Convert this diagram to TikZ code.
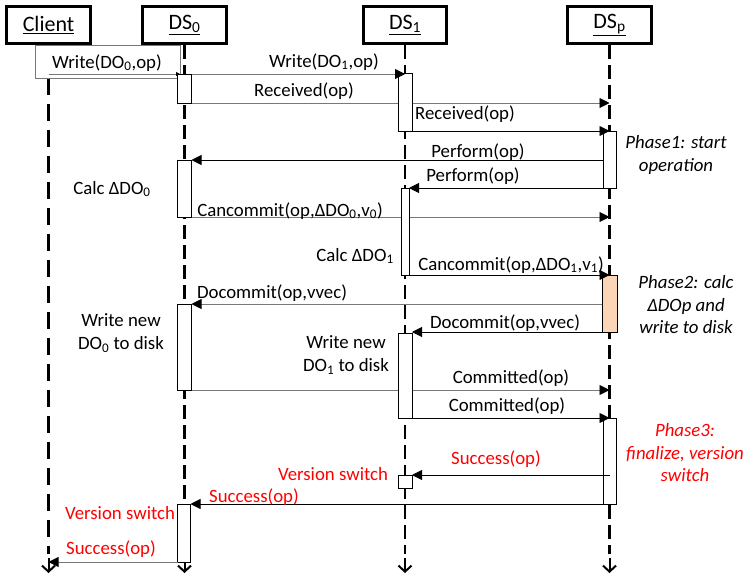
\documentclass[tikz,border=0pt]{standalone}
\usepackage{fontspec}
\setmainfont{Carlito}
\usetikzlibrary{arrows.meta,calc}
\definecolor{peach}{RGB}{251,213,181}
\definecolor{msggray}{RGB}{120,120,120}
\pgfdeclarelayer{bg}
\pgfsetlayers{bg,main}
\begin{document}
\begin{tikzpicture}[x=1pt,y=-1pt,
  font=\fontsize{18.8}{23}\selectfont,
  hdr/.style={draw, line width=3pt, fill=white, inner sep=0pt, font=\fontsize{22}{26}\selectfont},
  act/.style={draw, line width=0.9pt, fill=white, inner sep=0pt, outer sep=0pt, anchor=north west},
  life/.style={line width=2.8pt, dash pattern=on 14pt off 6pt},
  clife/.style={line width=2.4pt, dash pattern=on 17pt off 9pt},
  endarrow/.style={line width=2pt, -{Straight Barb[length=6pt,width=13pt]}},
  msg/.style={line width=0.9pt, -{Triangle[length=10pt,width=10pt,color=black]}},
  grey/.style={draw=msggray},
  lbl/.style={inner sep=0pt, anchor=center},
  twoline/.style={inner sep=0pt, align=center},
  note/.style={inner sep=0pt, align=center, font=\fontsize{18.8}{22.5}\selectfont\itshape}]
\useasboundingbox (0,0) rectangle (748,582);

% write box of the client
\node[draw=msggray, line width=0.8pt, fill=white, minimum width=145pt, minimum height=33pt,
      inner sep=0pt, outer sep=0pt, anchor=north west] (wb) at (35,45) {};

% headers
\node[hdr, minimum width=84pt, minimum height=37pt] (hc) at (48.5,25) {\underline{Client}};
\node[hdr, minimum width=84pt, minimum height=37pt] (h0) at (184.5,25) {\underline{DS\textsubscript{0}}};
\node[hdr, minimum width=83pt, minimum height=37pt] (h1) at (405,25) {\underline{DS\textsubscript{1}}};
\node[hdr, minimum width=84pt, minimum height=37pt] (hp) at (609.5,25) {\underline{DS\textsubscript{p}}};

\coordinate (bot) at (0,554);
\coordinate (stem) at (0,558);
\coordinate (tipy) at (0,573);
\coordinate (w0) at (48.5,74);
\coordinate (w1) at (180,74);

% activation boxes
\node[act, minimum width=14pt, minimum height=29pt] (a01) at (177.5,74) {};
\node[act, minimum width=14pt, minimum height=58pt] (a11) at (398,73) {};
\node[act, minimum width=13pt, minimum height=57pt] (ap1) at (603,131) {};
\node[act, minimum width=14pt, minimum height=57pt] (a02) at (177.5,160) {};
\node[act, minimum width=8pt, minimum height=87pt] (a12) at (401,188) {};
\node[act, fill=peach, minimum width=15pt, minimum height=57pt] (ap2) at (602,275) {};
\node[act, minimum width=14pt, minimum height=86pt] (a03) at (177.5,304) {};
\node[act, minimum width=14pt, minimum height=85pt] (a13) at (398,333) {};
\node[act, minimum width=13pt, minimum height=86pt] (ap3) at (603,418) {};
\node[act, minimum width=14pt, minimum height=13pt] (a14) at (398,475) {};
\node[act, minimum width=13pt, minimum height=58pt] (a04) at (177.5,504) {};

\begin{pgfonlayer}{bg}
  % lifelines
  \draw[clife] (hc.south |- wb.south) -- (hc.south |- bot);
  \draw[life] (h0.south) -- (h0.south |- bot);
  \draw[life] (h1.south) -- (h1.south |- bot);
  \draw[life] (hp.south) -- (hp.south |- bot);
  \draw[endarrow] (hc.south |- stem) -- (hc.south |- tipy);
  \draw[endarrow] (h0.south |- stem) -- (h0.south |- tipy);
  \draw[endarrow] (h1.south |- stem) -- (h1.south |- tipy);
  \draw[endarrow] (hp.south |- stem) -- (hp.south |- tipy);
  % messages passing behind activation boxes
  \draw[msg, grey] (a01.south east) -- (a01.south east -| hp.south);
  \draw[msg, grey] (a02.south east) -- (a02.south east -| hp.south);
  \draw[msg, grey] (a03.south east) -- (a03.south east -| hp.south);
\end{pgfonlayer}

% messages
\draw[grey, line width=0.9pt, -{Triangle[length=4pt,width=4pt,color=black]}] (w0) -- (w1);
\draw[msg, grey] (a01.north east) -- (a01.north east -| h1.south);
\draw[msg] (a11.south east) -- (a11.south east -| hp.south);
\draw[msg] (a02.north east -| ap1.west) -- (a02.north east);
\draw[msg] (ap1.south west) -- (ap1.south west -| a12.east);
\draw[msg] (a12.south east) -- (a12.south east -| hp.south);
\draw[msg, grey] (a03.north east -| ap2.west) -- (a03.north east);
\draw[msg] (ap2.south west) -- (ap2.south west -| a13.east);
\draw[msg] (a13.south east) -- (a13.south east -| hp.south);
\draw[msg] (a14.north east -| hp.south) -- (a14.north east);
\draw[msg] (ap3.south west) -- (ap3.south west -| a04.east);
\draw[msg, grey] (a04.south west) -- (a04.south west -| hc.south);

% message labels
\node[lbl] (t1) at (107,63) {Write(DO\textsubscript{0},op)};
\node[lbl] (t2) at (324,62) {Write(DO\textsubscript{1},op)};
\node[lbl] (t3) at (304,91) {Received(op)};
\node[lbl] (t4) at (465,114) {Received(op)};
\node[lbl] (t5) at (478,152) {Perform(op)};
\node[lbl] (t6) at (473,176) {Perform(op)};
\node[lbl] (t7) at (290,211) {Cancommit(op,ΔDO\textsubscript{0},v\textsubscript{0})};
\node[lbl] (t8) at (511,265) {Cancommit(op,ΔDO\textsubscript{1},v\textsubscript{1})};
\node[lbl] (t9) at (272,293) {Docommit(op,vvec)};
\node[lbl] (t10) at (505,323) {Docommit(op,vvec)};
\node[lbl] (t11) at (511,378) {Committed(op)};
\node[lbl] (t12) at (507,406) {Committed(op)};
\node[lbl, red] (t13) at (496,459) {Success(op)};
\node[lbl, red] (t14) at (254,497) {Success(op)};
\node[lbl, red] (t15) at (111,549) {Success(op)};

% side notes
\node[lbl] (c0) at (112,189) {Calc ΔDO\textsubscript{0}};
\node[lbl] (c1) at (355,256) {Calc ΔDO\textsubscript{1}};
\node[twoline] (n0) at (121,333) {Write new\\DO\textsubscript{0} to disk};
\node[twoline] (n1) at (346,355) {Write new\\DO\textsubscript{1} to disk};
\node[note] (p1) at (676,155) {Phase1: start\\operation};
\node[note] (p2) at (686,305) {Phase2: calc\\ΔDOp and\\write to disk};
\node[note, red] (p3) at (685,453) {Phase3:\\finalize, version\\switch};
\node[lbl, red] (v1) at (333,474) {Version switch};
\node[lbl, red] (v0) at (120,513) {Version switch};
\end{tikzpicture}
\end{document}
